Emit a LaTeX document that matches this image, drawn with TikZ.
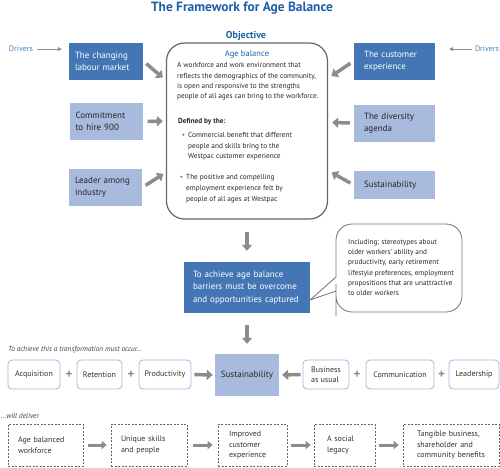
\documentclass[tikz,border=0pt]{standalone}
\usepackage{fontspec}
\setmainfont{PT Sans}
\usetikzlibrary{positioning, arrows.meta}
\definecolor{agedark}{RGB}{68,118,181}
\definecolor{agelight}{RGB}{168,186,221}
\definecolor{agetitle}{RGB}{31,94,168}
\definecolor{agedrv}{RGB}{74,128,196}
\definecolor{agegray}{RGB}{140,140,140}
\definecolor{agerim}{RGB}{160,184,222}

\begin{document}
\begin{tikzpicture}[x=1pt, y=-1pt,
  darkbox/.style={fill=agedark, text=white, font=\fontsize{9}{12}\selectfont, align=left, inner sep=0pt, minimum height=37pt},
  lightbox/.style={darkbox, fill=agelight, text=black!85},
  bodytext/.style={font=\fontsize{7.3}{10.4}\selectfont, align=left, inner sep=0pt, text=black!85, anchor=west},
  stepbox/.style={draw=agerim, line width=0.8pt, rounded corners=4pt, fill=white, minimum height=29pt, inner sep=0pt, font=\fontsize{8}{10}\selectfont, text=black!80, align=left},
  outcome/.style={draw=black!60, dash pattern=on 2pt off 1.5pt, line width=0.6pt, minimum height=42pt, inner sep=0pt, font=\fontsize{8}{10.5}\selectfont, text=black!80, align=left},
  plussign/.style={font=\bfseries\fontsize{13}{13}\selectfont, text=agegray, inner sep=0pt},
  fatarrow/.style={draw=agegray, line width=3.5pt, -{Triangle[length=6pt, width=10pt]}},
  smallarrow/.style={draw=agegray, line width=3pt, -{Triangle[length=5pt, width=8pt]}},
  thinarrow/.style={draw=agegray, line width=0.9pt, -{Triangle[length=4pt, width=4pt]}},
  drivertext/.style={font=\fontsize{8}{9}\selectfont, text=agedrv, inner sep=0pt},
  notetext/.style={font=\itshape\fontsize{7.3}{8}\selectfont, text=black!75, inner sep=0pt, anchor=west}
]
\useasboundingbox (0,0) rectangle (500,467);

% title
\node[font=\bfseries\fontsize{13.4}{15}\selectfont, text=agetitle] (title) at (242,8) {The Framework for Age Balance};
\node[font=\bfseries\fontsize{10}{12}\selectfont, text=agetitle] (objlabel) at (246,35.5) {Objective};

% drivers
\node[drivertext] (driversl) at (21,49) {Drivers};
\node[drivertext] (driversr) at (487,49) {Drivers};

\node[darkbox, minimum width=74pt, text width=62pt] (labour) at (106,61) {The changing\\labour market};
\node[lightbox, minimum width=73pt, text width=61pt] (commitment) at (106,121.5) {Commitment\\to hire 900};
\node[lightbox, minimum width=73pt, text width=61pt] (leader) at (105.5,187.5) {Leader among\\industry};

\node[darkbox, minimum width=81pt, text width=61pt] (customer) at (394.5,61) {The customer\\experience};
\node[lightbox, minimum width=81pt, text width=61pt] (diversity) at (394.5,123) {The diversity\\agenda};
\node[lightbox, minimum width=81pt, minimum height=28pt, text width=61pt] (sustainright) at (394.5,185) {Sustainability};

\draw[thinarrow, shorten <=4pt, shorten >=7pt] (driversl.east) -- (driversl.east -| labour.west);
\draw[thinarrow, shorten <=3pt, shorten >=14pt] (driversr.west) -- (driversr.west -| customer.east);

% objective
\node[draw=black!60, line width=1.2pt, rounded corners=18pt, minimum width=161pt, minimum height=176pt] (objective) at (247,131) {};
\node[font=\fontsize{8.5}{10}\selectfont, text=agetitle, inner sep=0pt] (agetitle) at (247,54) {Age balance};
\node[bodytext] (agetext) at (177,81.5) {A workforce and work environment that\\reflects the demographics of the community,\\is open and responsive to the strengths\\people of all ages can bring to the workforce.};
\node[bodytext, font=\bfseries\fontsize{7.3}{10.4}\selectfont] (definedby) at (178,122) {Defined by the:};
\node[bodytext] (bulletone) at (188,146.5) {\llap{\textcolor{agedrv}{\textbullet}\hspace{3pt}}Commercial benefit that different\\people and skills bring to the\\Westpac customer experience};
\node[bodytext, font=\fontsize{7.3}{11}\selectfont] (bullettwo) at (186,189) {\llap{\textcolor{agedrv}{\textbullet}\hspace{3pt}}The positive and compelling\\employment experience felt by\\people of all ages at Westpac};

\draw[fatarrow, shorten <=4pt, shorten >=4pt] (labour.east) -- (objective.148);
\draw[fatarrow, shorten <=5pt, shorten >=3pt] (commitment.east) -- (objective.173);
\draw[fatarrow, shorten <=4pt, shorten >=3pt] (leader.east) -- (objective.207);
\draw[fatarrow, shorten <=4pt, shorten >=4pt] (customer.west) -- (objective.33);
\draw[fatarrow, shorten <=4pt, shorten >=4pt] (diversity.west) -- (objective.6);
\draw[fatarrow, shorten <=4pt, shorten >=4pt] (sustainright.west) -- (objective.334);

% barriers
\node[darkbox, minimum width=126pt, minimum height=51pt, text width=108pt, font=\fontsize{9}{12.5}\selectfont] (barriers) at (247,287.5) {To achieve age balance\\barriers must be overcome\\and opportunities captured};
\node[bodytext, font=\fontsize{7.3}{10.2}\selectfont] (barriernote) at (348,267.5) {Including; stereotypes about\\older workers' ability and\\productivity, early retirement\\lifestyle preferences, employment\\propositions that are unattractive\\to older workers};
\coordinate (notetip) at (310,300);
\draw[draw=black!55, line width=0.8pt] (336,277) [rounded corners=16pt] -- (336,224) -- (462,224) -- (462,312) -- (336,312) -- (336,300) [sharp corners] -- (336,291) -- (notetip) -- cycle;

\draw[fatarrow, shorten <=12pt, shorten >=11pt] (objective.south) -- (barriers.north);

% transformation
\node[notetext] (transnote) at (8,350) {To achieve this a transformation must occur\ldots};
\node[stepbox, minimum width=52pt] (acquisition) at (34,374.5) {Acquisition};
\node[plussign] (plusa) at (69,374.5) {+};
\node[stepbox, minimum width=45pt] (retention) at (99.5,374.5) {Retention};
\node[plussign] (plusb) at (131,374.5) {+};
\node[stepbox, minimum width=52pt] (productivity) at (165,374.5) {Productivity};
\node[lightbox, minimum width=64pt, minimum height=42pt, align=center] (sustain) at (247,375) {Sustainability};
\node[stepbox, minimum width=46pt] (business) at (326,374.5) {Business\\as usual};
\node[plussign] (plusc) at (357,374.5) {+};
\node[stepbox, minimum width=68pt] (communication) at (400,374.5) {Communication};
\node[plussign] (plusd) at (441.5,374.5) {+};
\node[stepbox, minimum width=50pt] (leadership) at (474,374.5) {Leadership};

\draw[fatarrow, shorten <=12pt, shorten >=10pt] (barriers.south) -- (sustain.north);
\draw[fatarrow, shorten <=3pt, shorten >=2pt] (productivity.east) -- (sustain.west);
\draw[fatarrow, shorten <=2pt, shorten >=3pt] (business.west) -- (sustain.east);

% delivery
\node[notetext] (delivernote) at (1,416) {\ldots{}will deliver};
\node[outcome, minimum width=75pt, text width=55pt] (balanced) at (45.5,445) {Age balanced\\workforce};
\node[outcome, minimum width=76pt, text width=56pt] (unique) at (149,445) {Unique skills\\and people};
\node[outcome, minimum width=69pt, text width=47pt] (improved) at (252.5,445) {Improved\\customer\\experience};
\node[outcome, minimum width=61pt, text width=35pt] (legacy) at (344.5,445) {A social\\legacy};
\node[outcome, minimum width=96pt, text width=68pt] (tangible) at (451,445) {Tangible business,\\shareholder and\\community benefits};

\draw[smallarrow, shorten <=5pt, shorten >=4pt] (balanced) -- (unique);
\draw[smallarrow, shorten <=6pt, shorten >=5pt] (unique) -- (improved);
\draw[smallarrow, shorten <=4pt, shorten >=3pt] (improved) -- (legacy);
\draw[smallarrow, shorten <=4pt, shorten >=4pt] (legacy) -- (tangible);
\end{tikzpicture}
\end{document}
